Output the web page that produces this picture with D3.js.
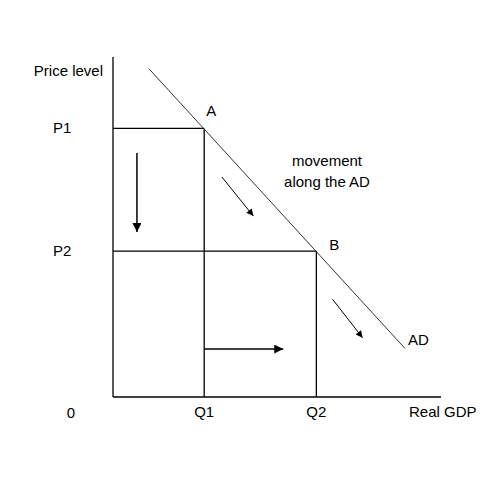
<!DOCTYPE html>
<html>
<head>
<meta charset="utf-8">
<script src="https://cdn.jsdelivr.net/npm/d3@7"></script>
<style>
  html, body { margin: 0; padding: 0; background: #fff; }
  svg { display: block; }
  text { font-family: "Liberation Sans", Arial, sans-serif; font-size: 15px; fill: #000; }
</style>
</head>
<body>
<svg id="chart" width="481" height="481"></svg>
<script>
// ---- data ----
const priceLabels = ["P1", "P2"];
const priceValues = [7.9, 4.29];
const qtyLabels = ["Q1", "Q2"];
const qtyValues = [2.78, 6.2];
const pointLabels = ["A", "B"];
const adCurve = [{x: 1.1, y: 9.65}, {x: 8.9, y: 1.43}];
const arrows = [
  {from: {x: 0.73, y: 7.18}, to: {x: 0.73, y: 4.85}, heavy: true},
  {from: {x: 3.32, y: 6.47}, to: {x: 4.28, y: 5.32}, heavy: false},
  {from: {x: 6.69, y: 2.88}, to: {x: 7.61, y: 1.74}, heavy: false},
  {from: {x: 2.78, y: 1.41}, to: {x: 5.19, y: 1.41}, heavy: true}
];
const axisTitles = {y: "Price level", x: "Real GDP", origin: "0", curve: "AD"};
const annotation = ["movement", "along the AD"];

// ---- scales ----
const svg = d3.select("#chart");
const x = d3.scaleLinear().domain([0, 10]).range([113, 441]);
const y = d3.scaleLinear().domain([0, 10]).range([397, 57]);

// markers
const defs = svg.append("defs");
defs.append("marker").attr("id", "headBig")
  .attr("viewBox", "0 0 10 10").attr("refX", 10).attr("refY", 5)
  .attr("markerWidth", 11).attr("markerHeight", 9).attr("markerUnits", "userSpaceOnUse")
  .attr("orient", "auto")
  .append("path").attr("d", "M0,0 L10,5 L0,10 Z").attr("fill", "#000");
defs.append("marker").attr("id", "headSmall")
  .attr("viewBox", "0 0 10 10").attr("refX", 10).attr("refY", 5)
  .attr("markerWidth", 10).attr("markerHeight", 7).attr("markerUnits", "userSpaceOnUse")
  .attr("orient", "auto")
  .append("path").attr("d", "M0,0 L10,5 L0,10 Z").attr("fill", "#000");

// axes
svg.append("line").attr("x1", x(0)).attr("y1", y(10)).attr("x2", x(0)).attr("y2", y(0))
  .attr("stroke", "#000").attr("stroke-width", 1.3);
svg.append("line").attr("x1", x(0)).attr("y1", y(0)).attr("x2", x(10)).attr("y2", y(0))
  .attr("stroke", "#000").attr("stroke-width", 1.3);

// guide lines
priceValues.forEach((p, i) => {
  svg.append("line").attr("x1", x(0)).attr("x2", x(qtyValues[i])).attr("y1", y(p)).attr("y2", y(p))
    .attr("stroke", "#000").attr("stroke-width", 1.3);
  svg.append("line").attr("x1", x(qtyValues[i])).attr("x2", x(qtyValues[i])).attr("y1", y(p)).attr("y2", y(0))
    .attr("stroke", "#000").attr("stroke-width", 1.3);
});

// AD curve
svg.append("path").datum(adCurve)
  .attr("d", d3.line().x(d => x(d.x)).y(d => y(d.y)))
  .attr("fill", "none").attr("stroke", "#333").attr("stroke-width", 1);

// arrows
arrows.forEach(a => {
  svg.append("line")
    .attr("x1", x(a.from.x)).attr("y1", y(a.from.y))
    .attr("x2", x(a.to.x)).attr("y2", y(a.to.y))
    .attr("stroke", "#000").attr("stroke-width", a.heavy ? 1.5 : 1)
    .attr("marker-end", a.heavy ? "url(#headBig)" : "url(#headSmall)");
});

// labels
svg.append("text").attr("x", 103).attr("y", 76).attr("text-anchor", "end").text(axisTitles.y);
priceLabels.forEach((t, i) => {
  svg.append("text").attr("x", 53).attr("y", y(priceValues[i]) + 5).text(t);
});
qtyLabels.forEach((t, i) => {
  svg.append("text").attr("x", x(qtyValues[i])).attr("y", 417).attr("text-anchor", "middle").text(t);
});
svg.append("text").attr("x", 71).attr("y", 418).attr("text-anchor", "middle").text(axisTitles.origin);
svg.append("text").attr("x", 409).attr("y", 417).text(axisTitles.x);
svg.append("text").attr("x", x(qtyValues[0]) + 2).attr("y", y(priceValues[0]) - 12).text(pointLabels[0]);
svg.append("text").attr("x", x(qtyValues[1]) + 13).attr("y", y(priceValues[1]) - 1).text(pointLabels[1]);
svg.append("text").attr("x", x(adCurve[1].x) + 3).attr("y", y(adCurve[1].y) - 3).text(axisTitles.curve);
annotation.forEach((t, i) => {
  svg.append("text").attr("x", 327).attr("y", 166 + i * 21).attr("text-anchor", "middle").text(t);
});
</script>
</body>
</html>
